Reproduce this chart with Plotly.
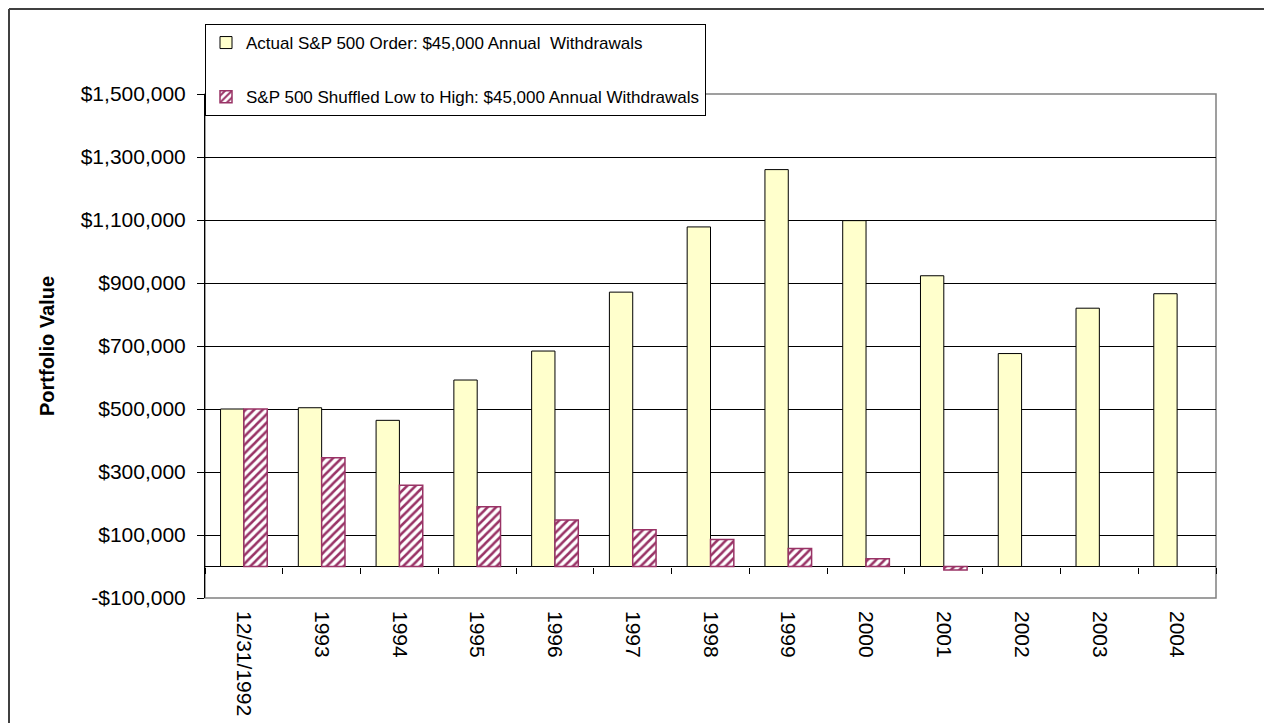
import plotly.graph_objects as go

categories = ["12/31/1992", "1993", "1994", "1995", "1996", "1997", "1998",
              "1999", "2000", "2001", "2002", "2003", "2004"]
actual_values = [500000, 504000, 464000, 592000, 684000, 871000, 1078000,
                 1260000, 1098000, 923000, 676000, 820000, 866000]
shuffled_values = [500000, 345000, 258000, 190000, 148000, 117000, 86000,
                   57000, 25000, -11000, None, None, None]
series_names = ["Actual S&P 500 Order: $45,000 Annual  Withdrawals",
                "S&P 500 Shuffled Low to High: $45,000 Annual Withdrawals"]
y_tick_values = [-100000, 100000, 300000, 500000, 700000, 900000,
                 1100000, 1300000, 1500000]
y_tick_text = [("-$" if v < 0 else "$") + f"{abs(v):,}" for v in y_tick_values]

# The page body adds an 8px offset, so figure coordinates = page - 8
OFF = 8
W, H = 1272 - OFF, 723 - OFF
ML, MR, MT, MB = 205 - OFF, W + OFF - 1216, 94 - OFF, H + OFF - 598
PW, PH = W - ML - MR, H - MT - MB
YMIN, YMAX = -100000, 1500000


def px_x(p):
    """page pixel -> paper x"""
    return (p - OFF - ML) / PW


def px_y(p):
    """page pixel -> paper y"""
    return 1 - (p - OFF - MT) / PH


fig = go.Figure()
fig.add_trace(go.Bar(
    x=categories, y=actual_values, name=series_names[0],
    marker=dict(color="#FFFFCC", line=dict(color="#000000", width=1)),
    legendgroup="a",
))
fig.add_trace(go.Bar(
    x=categories, y=shuffled_values, name=series_names[1],
    marker=dict(color="#FFFFFF",
                line=dict(color="#993366", width=1.5),
                pattern=dict(shape="/", fgcolor="#993366", bgcolor="#FFFFFF",
                             size=6, solidity=0.42, fillmode="replace")),
    legendgroup="b",
))
# helper trace for the category axis ticks at the zero line
fig.add_trace(go.Scatter(
    x=categories, y=[None] * len(categories), xaxis="x2", yaxis="y",
    showlegend=False, hoverinfo="skip", mode="markers",
))

font_family = "Liberation Sans, Arial, sans-serif"
fig.update_layout(
    width=W, height=H,
    margin=dict(l=ML, r=MR, t=MT, b=MB, pad=0, autoexpand=False),
    paper_bgcolor="#FFFFFF", plot_bgcolor="#FFFFFF",
    font=dict(family=font_family, color="#000000", size=21),
    barmode="group", bargap=0.4, bargroupgap=0,
    showlegend=True,
    legend=dict(
        x=0, y=px_y(24), xanchor="left", yanchor="top",
        bgcolor="#FFFFFF", bordercolor="#000000", borderwidth=1,
        font=dict(size=17, family=font_family),
        traceorder="grouped", tracegroupgap=29,
        itemwidth=30,
    ),
    xaxis=dict(
        type="category", range=[-0.5, len(categories) - 0.5],
        showgrid=False, zeroline=False, showline=False,
        ticks="", tickangle=90, tickfont=dict(size=21),
        ticklabelstandoff=12, automargin=False,
    ),
    xaxis2=dict(
        type="category", overlaying="x", matches="x",
        anchor="free", position=(0 - YMIN) / (YMAX - YMIN),
        showgrid=False, zeroline=False, showline=False,
        showticklabels=False, ticks="outside", tickson="boundaries",
        ticklen=6, tickcolor="#000000", tickwidth=1, automargin=False,
    ),
    yaxis=dict(
        range=[YMIN, YMAX], tickvals=y_tick_values, ticktext=y_tick_text,
        showgrid=True, gridcolor="#000000", gridwidth=1,
        zeroline=True, zerolinecolor="#000000", zerolinewidth=1,
        showline=True, linecolor="#000000", linewidth=1,
        ticks="outside", ticklen=7, tickcolor="#000000",
        tickfont=dict(size=21), ticklabelstandoff=7, automargin=False,
        title=dict(text="<b>Portfolio Value</b>", font=dict(size=20), standoff=20),
    ),
    shapes=[
        # plot area border (gray)
        dict(type="rect", xref="paper", yref="paper", x0=0, x1=1, y0=0, y1=1,
             line=dict(color="#808080", width=1.5), layer="below"),
        # outer chart border (left and top, continues beyond window)
        dict(type="line", xref="paper", yref="paper",
             x0=px_x(9), x1=px_x(9), y0=px_y(9), y1=px_y(H + OFF + 5),
             line=dict(color="#404040", width=2)),
        dict(type="line", xref="paper", yref="paper",
             x0=px_x(9), x1=px_x(W + OFF + 5), y0=px_y(9), y1=px_y(9),
             line=dict(color="#404040", width=2)),
    ],
)

fig.write_html("out.html")
